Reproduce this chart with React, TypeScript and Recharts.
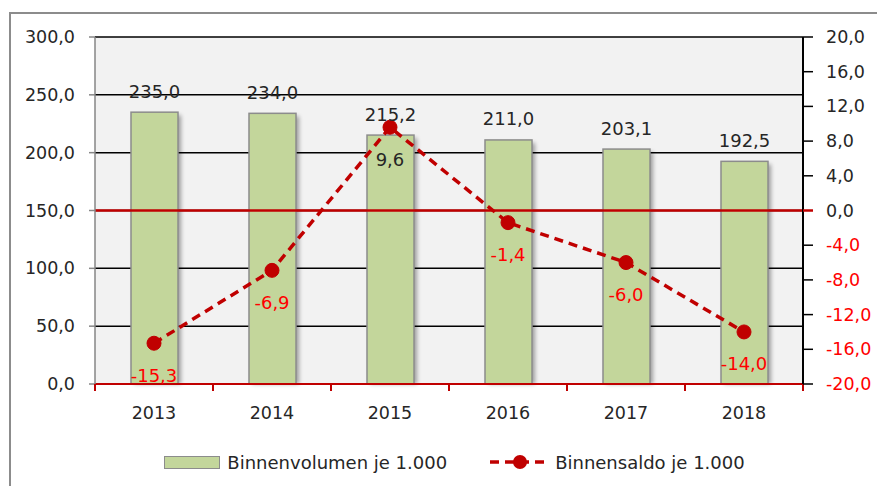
import React from 'react';
import { ComposedChart, Bar, Line, XAxis, YAxis, CartesianGrid, ReferenceLine, LabelList } from 'recharts';

const years = ['2013', '2014', '2015', '2016', '2017', '2018'];
const volumen = [235.0, 234.0, 215.2, 211.0, 203.1, 192.5];
const saldo = [-15.3, -6.9, 9.6, -1.4, -6.0, -14.0];
const leftTicks = [0, 50, 100, 150, 200, 250, 300];
const rightTicks = [-20, -16, -12, -8, -4, 0, 4, 8, 12, 16, 20];
const seriesNames = ['Binnenvolumen je 1.000', 'Binnensaldo je 1.000'];

const data = years.map((y, i) => ({ year: y, volumen: volumen[i], saldo: saldo[i] }));

const FONT = '"DejaVu Sans", sans-serif';
const W = 877;
const H = 486;
const MARGIN = { top: 37, right: 14, left: 10, bottom: 62 };
const LEFT_W = 85;
const RIGHT_W = 60;
const XAXIS_H = 40;
const PLOT_W = W - MARGIN.left - MARGIN.right - LEFT_W - RIGHT_W;
const HALF_BAND = PLOT_W / years.length / 2;
const R_TICK = 9;
const R_MARGIN = 14;

const DARK = '#262626';
const RED_TXT = '#ff0000';
const LINE_RED = '#c00000';
const BAR_FILL = '#c3d69b';
const BAR_STROKE = '#8c8c8c';

const fmt = (v: number) => v.toFixed(1).replace('.', ',');

const BarShape = (props: any) => {
  const { x, y, width, height } = props;
  return (
    <g>
      <defs>
        <filter id="barShadow" x="-20%" y="-20%" width="150%" height="150%">
          <feGaussianBlur stdDeviation="2" />
        </filter>
      </defs>
      <rect x={x + 3} y={y + 3} width={width} height={Math.max(0, height - 3)} fill="#000" opacity={0.35} filter="url(#barShadow)" />
      <rect x={x} y={y} width={width} height={height} fill={BAR_FILL} stroke={BAR_STROKE} strokeWidth={1.5} />
    </g>
  );
};

const BarLabel = (props: any) => {
  const { x, y, width, value } = props;
  return (
    <text x={x + width / 2} y={y - 21} textAnchor="middle" dominantBaseline="central" fontSize={18} fill={DARK} fontFamily={FONT}>
      {fmt(value)}
    </text>
  );
};

const LineLabel = (props: any) => {
  const { x, y, value } = props;
  return (
    <text x={x} y={y + 32} textAnchor="middle" dominantBaseline="central" fontSize={18} fill={value < 0 ? RED_TXT : DARK} fontFamily={FONT}>
      {fmt(value)}
    </text>
  );
};

const XTick = (props: any) => {
  const { x, y, payload, index } = props;
  return (
    <g>
      <line x1={x - HALF_BAND} x2={x - HALF_BAND} y1={y} y2={y + 7} stroke={LINE_RED} strokeWidth={2} />
      {index === years.length - 1 && (
        <line x1={x + HALF_BAND} x2={x + HALF_BAND} y1={y} y2={y + 7} stroke={LINE_RED} strokeWidth={2} />
      )}
      <text x={x} y={y + 29} textAnchor="middle" dominantBaseline="central" fontSize={17.5} fill={DARK} fontFamily={FONT}>
        {payload.value}
      </text>
    </g>
  );
};

const RightTick = (props: any) => {
  const { x, y, payload } = props;
  const v = payload.value as number;
  const ax = x - R_MARGIN - R_TICK;
  return (
    <g>
      <line x1={ax} x2={ax + R_TICK + 1} y1={y} y2={y} stroke={v === 0 ? LINE_RED : '#000'} strokeWidth={v === 0 ? 2.5 : 1.5} />
      <text x={x} y={y} textAnchor="start" dominantBaseline="central" fontSize={17.5} fill={v < 0 ? RED_TXT : DARK} fontFamily={FONT}>
        {fmt(v)}
      </text>
    </g>
  );
};

const LeftTick = (props: any) => {
  const { x, y, payload } = props;
  return (
    <text x={x} y={y} textAnchor="end" dominantBaseline="central" fontSize={17.5} fill={DARK} fontFamily={FONT}>
      {fmt(payload.value)}
    </text>
  );
};

export default function App() {
  return (
    <div style={{ position: 'absolute', left: 0, top: 0, width: W, height: H, overflow: 'hidden', background: '#fff', fontFamily: FONT }}>
      <div style={{ position: 'absolute', left: 9, top: 12, width: 950, height: 600, border: '2px solid #8c8c8c', boxSizing: 'border-box' }} />
      <div style={{ position: 'absolute', left: 0, top: 0 }}>
        <ComposedChart width={W} height={H} data={data} margin={MARGIN} barCategoryGap={0}>
          <CartesianGrid yAxisId="left" vertical={false} horizontal stroke="#000" strokeWidth={1.5} fill="#f2f2f2" fillOpacity={1} />
          <XAxis
            dataKey="year"
            height={XAXIS_H}
            axisLine={{ stroke: LINE_RED, strokeWidth: 2 }}
            tickLine={false}
            tickSize={0}
            tickMargin={0}
            interval={0}
            tick={<XTick />}
          />
          <YAxis
            yAxisId="left"
            orientation="left"
            width={LEFT_W}
            domain={[0, 300]}
            ticks={leftTicks}
            interval={0}
            axisLine={{ stroke: '#868686', strokeWidth: 1.5 }}
            tickLine={{ stroke: '#868686', strokeWidth: 1.5 }}
            tickSize={6}
            tickMargin={14}
            tick={<LeftTick />}
          />
          <YAxis
            yAxisId="right"
            orientation="right"
            width={RIGHT_W}
            domain={[-20, 20]}
            ticks={rightTicks}
            interval={0}
            axisLine={{ stroke: '#000', strokeWidth: 2 }}
            tickLine={false}
            tickSize={R_TICK}
            tickMargin={R_MARGIN}
            tick={<RightTick />}
          />
          <ReferenceLine yAxisId="right" y={0} stroke={LINE_RED} strokeWidth={2.5} />
          <Bar yAxisId="left" dataKey="volumen" name={seriesNames[0]} barSize={47} shape={<BarShape />} isAnimationActive={false}>
            <LabelList dataKey="volumen" content={<BarLabel />} />
          </Bar>
          <Line
            yAxisId="right"
            dataKey="saldo"
            name={seriesNames[1]}
            type="linear"
            stroke={LINE_RED}
            strokeWidth={3.5}
            strokeDasharray="9 6"
            dot={{ r: 7, fill: LINE_RED, stroke: LINE_RED, strokeWidth: 1, strokeDasharray: '' }}
            activeDot={false}
            isAnimationActive={false}
          >
            <LabelList dataKey="saldo" content={<LineLabel />} />
          </Line>
        </ComposedChart>
      </div>
      <div style={{ position: 'absolute', left: 0, top: 449, width: W, height: 26, display: 'flex', justifyContent: 'center', alignItems: 'center', fontSize: 18, color: DARK, paddingLeft: 32, boxSizing: 'border-box' }}>
        <div style={{ display: 'flex', alignItems: 'center' }}>
          <div style={{ width: 54, height: 11, background: BAR_FILL, border: `1.5px solid ${BAR_STROKE}` }} />
          <span style={{ marginLeft: 7 }}>{seriesNames[0]}</span>
        </div>
        <div style={{ display: 'flex', alignItems: 'center', marginLeft: 42 }}>
          <svg width={62} height={20}>
            <line x1={1} x2={61} y1={10} y2={10} stroke={LINE_RED} strokeWidth={3.5} strokeDasharray="9 6" />
            <circle cx={31} cy={10} r={7} fill={LINE_RED} />
          </svg>
          <span style={{ marginLeft: 4 }}>{seriesNames[1]}</span>
        </div>
      </div>
    </div>
  );
}
